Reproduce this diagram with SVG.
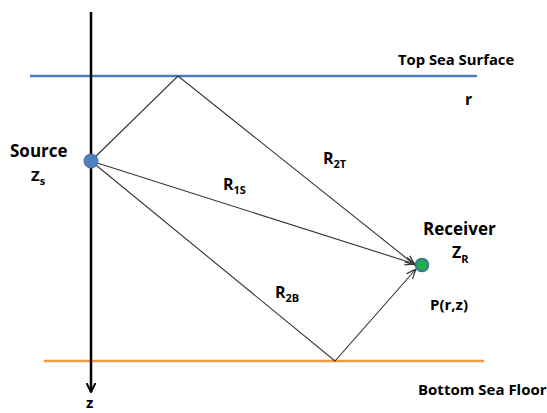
<svg xmlns="http://www.w3.org/2000/svg" width="547" height="413" viewBox="0 0 547 413">
<defs>
<style>
text{font-family:"Open Sans","Liberation Sans",sans-serif;font-weight:bold;fill:#000}
.lbl{font-size:16px}
.sub{font-size:11px}
.ray{stroke:#333;stroke-width:1.1;fill:none}
</style>
<marker id="ah" viewBox="0 0 10 10" refX="10" refY="5" markerWidth="10" markerHeight="10" markerUnits="userSpaceOnUse" orient="auto">
<path d="M0,1 L10,5 L0,9" fill="none" stroke="#333" stroke-width="1.2"/>
</marker>
<marker id="axh" viewBox="0 0 10 10" refX="9" refY="5" markerWidth="10" markerHeight="10" markerUnits="userSpaceOnUse" orient="auto">
<path d="M0,0.5 L9,5 L0,9.5" fill="none" stroke="#000" stroke-width="2"/>
</marker>
</defs>
<rect width="547" height="413" fill="#fff"/>
<g id="boundaries">
<line x1="30" y1="76" x2="477" y2="76" stroke="#4a7cc4" stroke-width="2.5"/>
<line x1="44" y1="361" x2="484" y2="361" stroke="#f39a44" stroke-width="2.5"/>
</g>
<g id="axis">
<line x1="91" y1="12" x2="91" y2="392" stroke="#000" stroke-width="2.5" marker-end="url(#axh)"/>
</g>
<g id="connectors">
<path class="ray" d="M91,161 L178,76 L415,265" marker-end="url(#ah)"/>
<path class="ray" d="M91,161 L415,264" marker-end="url(#ah)"/>
<path class="ray" d="M91,161 L335,361 L416,269" marker-end="url(#ah)"/>
</g>
<g id="source">
<circle cx="91" cy="161" r="7" fill="#4f81bd" stroke="#3b6aa5" stroke-width="1"/>
<text class="lbl" x="10" y="157" style="font-size:17px">Source</text>
<text class="lbl" x="31" y="181" style="font-size:15px">Z<tspan class="sub" dy="4">s</tspan></text>
</g>
<g id="receiver">
<circle cx="422" cy="265" r="6.5" fill="#1fae4b" stroke="#3b6aa5" stroke-width="1.5"/>
<text class="lbl" x="423" y="235" style="font-size:17px">Receiver</text>
<text class="lbl" x="452" y="258">Z<tspan class="sub" dy="5">R</tspan></text>
<text class="lbl" x="430" y="310" style="font-size:15px">P(r,z)</text>
</g>
<g id="labels">
<text class="lbl" x="398" y="65" style="font-size:14.8px">Top Sea Surface</text>
<text class="lbl" x="465" y="105">r</text>
<text class="lbl" x="323" y="164">R<tspan class="sub" dy="4">2T</tspan></text>
<text class="lbl" x="223" y="190">R<tspan class="sub" dy="4">1S</tspan></text>
<text class="lbl" x="275" y="298">R<tspan class="sub" dy="4">2B</tspan></text>
<text class="lbl" x="418" y="395" style="font-size:15px">Bottom Sea Floor</text>
<text class="lbl" x="86" y="408" style="font-size:15px">z</text>
</g>
</svg>
